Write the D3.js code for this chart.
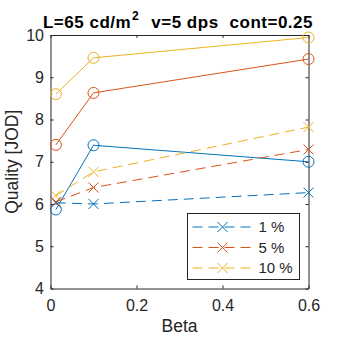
<!DOCTYPE html>
<html>
<head>
<meta charset="utf-8">
<script src="https://cdn.jsdelivr.net/npm/d3@7"></script>
<style>
  body { margin: 0; background: #fff; }
  svg { font-family: "Liberation Sans", Arial, sans-serif; }
  .axis text { fill: #262626; font-size: 16px; }
  .axis path, .axis line { stroke: #262626; }
</style>
</head>
<body>
<div id="chart"></div>
<script>

// beta values and quality (JOD) for each contrast level
const betas = [0.0125, 0.1, 0.6];
const levels = ["1 %", "5 %", "10 %"];
const colors = ["#0072BD", "#D95319", "#EDB120"];

// solid lines with circle markers
const circleSeries = [
    [5.87, 7.39, 7.00],
    [7.40, 8.63, 9.43],
    [8.60, 9.46, 9.94]
];

// dashed lines with cross markers (these go in the legend)
const crossSeries = [
    [6.03, 6.00, 6.27],
    [6.05, 6.39, 7.29],
    [6.20, 6.76, 7.82]
];

const xTicks = [0, 0.2, 0.4, 0.6];
const yTicks = [4, 5, 6, 7, 8, 9, 10];

const width = 340;
const height = 340;

const margin = { top: 35, left: 50.5, right: 31.5, bottom: 51.5 };

const svg = d3.select("#chart")
    .append("svg")
    .attr("width", width)
    .attr("height", height);

const xScale = d3.scaleLinear()
    .domain([0, 0.6])
    .range([margin.left, width - margin.right]);

const yScale = d3.scaleLinear()
    .domain([4, 10])
    .range([height - margin.bottom, margin.top]);

const tickLen = 3;

// axes, with mirrored ticks on top and right (box on)
svg.append("g")
    .attr("class", "axis")
    .attr("transform", `translate(0,${height - margin.bottom})`)
    .call(d3.axisBottom(xScale).tickValues(xTicks).tickFormat(d3.format("")).tickSizeInner(-tickLen).tickSizeOuter(0).tickPadding(11));

svg.append("g")
    .attr("class", "axis")
    .attr("transform", `translate(0,${margin.top})`)
    .call(d3.axisTop(xScale).tickValues(xTicks).tickFormat("").tickSizeInner(-tickLen).tickSizeOuter(0));

svg.append("g")
    .attr("class", "axis")
    .attr("transform", `translate(${margin.left},0)`)
    .call(d3.axisLeft(yScale).tickValues(yTicks).tickFormat(d3.format("d")).tickSizeInner(-tickLen).tickSizeOuter(0).tickPadding(6.5));

svg.append("g")
    .attr("class", "axis")
    .attr("transform", `translate(${width - margin.right},0)`)
    .call(d3.axisRight(yScale).tickValues(yTicks).tickFormat("").tickSizeInner(-tickLen).tickSizeOuter(0));

svg.selectAll(".axis .domain").attr("stroke-width", 1);

const line = d3.line()
    .x((d, i) => xScale(betas[i]))
    .y(d => yScale(d));

// solid lines + circles
circleSeries.forEach(function(vals, k) {
    svg.append("path")
        .datum(vals)
        .attr("d", line)
        .attr("fill", "none")
        .attr("stroke", colors[k])
        .attr("stroke-width", 1);

    svg.selectAll(null)
        .data(vals)
        .enter()
        .append("circle")
            .attr("cx", (d, i) => xScale(betas[i]))
            .attr("cy", d => yScale(d))
            .attr("r", 5.5)
            .attr("fill", "none")
            .attr("stroke", colors[k])
            .attr("stroke-width", 1);
});

function cross(g, cx, cy, s, color) {
    g.append("path")
        .attr("d", `M${cx - s},${cy - s}L${cx + s},${cy + s}M${cx - s},${cy + s}L${cx + s},${cy - s}`)
        .attr("stroke", color)
        .attr("stroke-width", 1)
        .attr("fill", "none");
}

// dashed lines + crosses
crossSeries.forEach(function(vals, k) {
    svg.append("path")
        .datum(vals)
        .attr("d", line)
        .attr("fill", "none")
        .attr("stroke", colors[k])
        .attr("stroke-width", 1)
        .attr("stroke-dasharray", "10,6");

    vals.forEach(function(v, i) {
        cross(svg, xScale(betas[i]), yScale(v), 5, colors[k]);
    });
});

// legend
const legend = svg.append("g").attr("transform", "translate(187.5,213.5)");

legend.append("rect")
    .attr("width", 112)
    .attr("height", 66)
    .attr("fill", "#fff")
    .attr("stroke", "#262626")
    .attr("stroke-width", 1);

levels.forEach(function(name, k) {
    const yy = 13.5 + k * 20.5;
    legend.append("line")
        .attr("x1", 5).attr("x2", 64)
        .attr("y1", yy).attr("y2", yy)
        .attr("stroke", colors[k])
        .attr("stroke-width", 1)
        .attr("stroke-dasharray", "10,6");
    cross(legend, 35, yy, 5, colors[k]);
    legend.append("text")
        .attr("x", 71)
        .attr("y", yy)
        .attr("dy", "0.35em")
        .attr("fill", "#262626")
        .style("font-size", "15px")
        .text(name);
});

// axis labels
svg.append("text")
    .attr("x", (margin.left + width - margin.right) / 2)
    .attr("y", 332)
    .attr("text-anchor", "middle")
    .attr("fill", "#262626")
    .style("font-size", "17.5px")
    .text("Beta");

svg.append("text")
    .attr("transform", "rotate(-90)")
    .attr("x", -(margin.top + height - margin.bottom) / 2)
    .attr("y", 17.5)
    .attr("text-anchor", "middle")
    .attr("fill", "#262626")
    .style("font-size", "17.5px")
    .text("Quality [JOD]");

// title
const title = svg.append("text")
    .attr("x", 178)
    .attr("y", 27.5)
    .attr("text-anchor", "middle")
    .attr("fill", "#000")
    .style("font-size", "17px")
    .style("letter-spacing", "0.5px")
    .style("font-weight", "bold");

title.append("tspan").text("L=65 cd/m");
title.append("tspan").attr("dy", -7.5).attr("dx", 1).style("font-size", "12px").text("2");
title.append("tspan").attr("dy", 7.5).attr("dx", 12).text("v=5 dps");
title.append("tspan").attr("dx", 11).text("cont=0.25");

</script>
</body>
</html>
